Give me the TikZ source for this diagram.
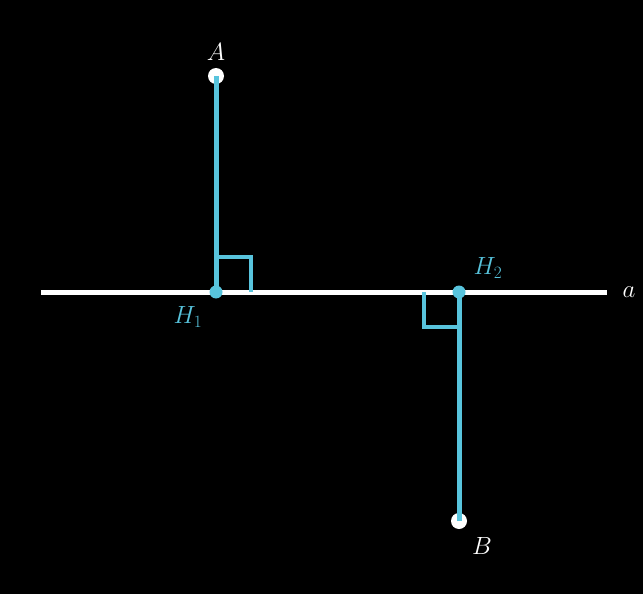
\documentclass[tikz,border=0pt]{standalone}
\definecolor{mblue}{HTML}{58C4DD}
\begin{document}
\begin{tikzpicture}[x=1pt,y=-1pt,
  lbl/.style={font=\fontsize{24}{28}\selectfont, inner sep=0pt},
  seg/.style={mblue, line width=5pt},
  ramark/.style={mblue, line width=4pt, line join=miter},
  endpt/.style={circle, fill=white, minimum size=16pt, inner sep=0pt},
  foot/.style={circle, fill=mblue, minimum size=13pt, inner sep=0pt}]
\fill[black] (0,0) rectangle (643,594);
\useasboundingbox (0,0) rectangle (643,594);
\coordinate (L) at (41,292);
\coordinate (R) at (607,292);
\draw[white, line width=5pt] (L) -- (R);
\node[lbl, white] (la) at (629,292) {$a$};
\node[endpt] (A) at (216,76) {};
\node[endpt] (B) at (459,521) {};
\coordinate (H1) at (216,292);
\coordinate (H2) at (459,292);
\draw[ramark] (216,257) -- (251,257) -- (251,292);
\draw[ramark] (424,292) -- (424,327) -- (459,327);
\draw[seg] (A.center) -- (H1);
\draw[seg] (B.center) -- (H2);
\node[foot] (h1) at (H1) {};
\node[foot] (h2) at (H2) {};
\node[lbl, white] (lA) at (216,52) {$A$};
\node[lbl, white] (lB) at (482,546) {$B$};
\node[lbl, mblue] (lH1) at (188,317) {$H_1$};
\node[lbl, mblue] (lH2) at (488,268) {$H_2$};
\end{tikzpicture}
\end{document}
